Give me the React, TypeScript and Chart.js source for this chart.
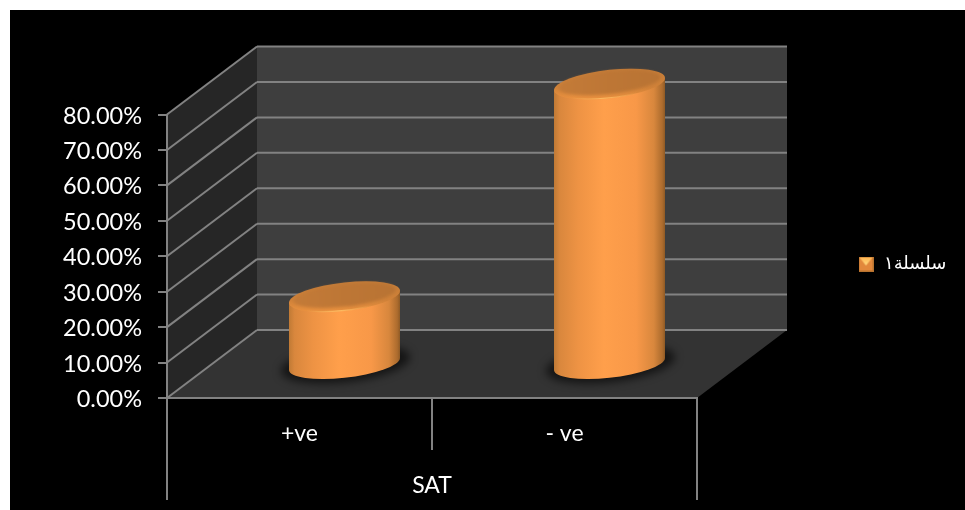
import React, { useEffect, useRef } from "react";
import { Chart, registerables } from "chart.js";

Chart.register(...registerables);

const categories = ["+ve", "- ve"];
const seriesName = "سلسلة١";
const seriesValues = [0.19, 0.79];
const groupLabel = "SAT";

const FONT = "Lato, sans-serif";
const AXIS_COLOR = "#828282";
const DEPTH_X = 90;
const DEPTH_Y = -68;

// Bevelled square used as the legend key.
function makeLegendKey(): HTMLCanvasElement {
  const c = document.createElement("canvas");
  c.width = 15;
  c.height = 15;
  const g = c.getContext("2d")!;
  g.fillStyle = "#b8732f";
  g.fillRect(0, 0, 15, 15);
  g.fillStyle = "#e2883c";
  g.fillRect(1, 1, 13, 13);
  const tri = g.createLinearGradient(0, 1, 0, 9);
  tri.addColorStop(0, "#ffb552");
  tri.addColorStop(1, "#ffdc82");
  g.fillStyle = tri;
  g.beginPath();
  g.moveTo(1, 1);
  g.lineTo(14, 1);
  g.lineTo(7.5, 9);
  g.closePath();
  g.fill();
  return c;
}

function line(ctx: CanvasRenderingContext2D, x1: number, y1: number, x2: number, y2: number) {
  ctx.beginPath();
  ctx.moveTo(x1, y1);
  ctx.lineTo(x2, y2);
  ctx.stroke();
}

// Walls, floor and the gridlines that wrap around them.
const roomPlugin = {
  id: "room",
  beforeDraw(chart: any) {
    const { ctx, chartArea: a } = chart;
    const { x: xs, y: ys } = chart.scales;
    ctx.save();
    ctx.fillStyle = "#3e3e3e";
    ctx.fillRect(a.left + DEPTH_X, a.top + DEPTH_Y, a.right - a.left, a.bottom - a.top);
    ctx.fillStyle = "#262626";
    ctx.beginPath();
    ctx.moveTo(a.left, a.top);
    ctx.lineTo(a.left + DEPTH_X, a.top + DEPTH_Y);
    ctx.lineTo(a.left + DEPTH_X, a.bottom + DEPTH_Y);
    ctx.lineTo(a.left, a.bottom);
    ctx.closePath();
    ctx.fill();
    ctx.fillStyle = "#333333";
    ctx.beginPath();
    ctx.moveTo(a.left, a.bottom);
    ctx.lineTo(a.right, a.bottom);
    ctx.lineTo(a.right + DEPTH_X, a.bottom + DEPTH_Y);
    ctx.lineTo(a.left + DEPTH_X, a.bottom + DEPTH_Y);
    ctx.closePath();
    ctx.fill();

    ctx.strokeStyle = AXIS_COLOR;
    ctx.lineWidth = 2;
    for (const t of ys.ticks) {
      const py = ys.getPixelForValue(t.value);
      line(ctx, a.left, py, a.left + DEPTH_X, py + DEPTH_Y);
      line(ctx, a.left + DEPTH_X, py + DEPTH_Y, a.right + DEPTH_X, py + DEPTH_Y);
    }

    // Two-level category dividers below the floor.
    const half = (xs.getPixelForValue(1) - xs.getPixelForValue(0)) / 2;
    const mid = xs.getPixelForValue(0) + half;
    line(ctx, a.left, a.bottom, a.left, a.bottom + 102);
    line(ctx, a.right, a.bottom, a.right, a.bottom + 102);
    line(ctx, mid, a.bottom, mid, a.bottom + 52);
    ctx.restore();
  },
};

// Rotated ellipse path for a cross-section of the cylinder.
function disc(ctx: CanvasRenderingContext2D, cx: number, cy: number, a: number, b: number, skew: number) {
  ctx.save();
  ctx.transform(1, -skew, 0, 1, cx, cy);
  ctx.beginPath();
  ctx.ellipse(0, 0, a, b, 0, 0, Math.PI * 2);
  ctx.restore();
}

// Cylinders placed at the mid depth of the room, from the bar elements' geometry.
const cylinderPlugin = {
  id: "cylinders",
  afterDatasetsDraw(chart: any) {
    const { ctx } = chart;
    const ys = chart.scales.y;
    const base0 = ys.getPixelForValue(0) + DEPTH_Y / 2;
    for (const bar of chart.getDatasetMeta(0).data) {
      const cx = bar.x + DEPTH_X / 2;
      const r = bar.width / 2;
      const topY = bar.y + DEPTH_Y / 2;
      const ry = 13.2;
      const skew = 6 / r;

      // contact shadow on the floor
      ctx.save();
      ctx.filter = "blur(4px)";
      ctx.fillStyle = "rgba(0,0,0,0.6)";
      disc(ctx, cx + 1, base0, r + 9, ry + 5, skew);
      ctx.fill();
      ctx.restore();

      // body
      const grad = ctx.createLinearGradient(cx - r, 0, cx + r, 0);
      grad.addColorStop(0, "#c07a35");
      grad.addColorStop(0.05, "#d9873d");
      grad.addColorStop(0.22, "#ee9344");
      grad.addColorStop(0.45, "#ff9f4b");
      grad.addColorStop(0.74, "#f89848");
      grad.addColorStop(0.9, "#d8873d");
      grad.addColorStop(0.975, "#ad6c2e");
      grad.addColorStop(1, "#8f5a25");
      ctx.beginPath();
      ctx.moveTo(cx - r, topY + 6);
      ctx.lineTo(cx - r, base0 + 6);
      ctx.save();
      ctx.transform(1, -skew, 0, 1, cx, base0);
      ctx.ellipse(0, 0, r, ry + 0.6, 0, Math.PI, 0, true);
      ctx.restore();
      ctx.lineTo(cx + r, topY - 6);
      ctx.closePath();
      ctx.fillStyle = grad;
      ctx.fill();

      // top face: soft bevelled rim around a darker inner disc
      const rim = ctx.createLinearGradient(0, topY - ry, 0, topY + ry + 1);
      rim.addColorStop(0, "#c47c38");
      rim.addColorStop(0.6, "#d08239");
      rim.addColorStop(1, "#e8903f");
      disc(ctx, cx, topY, r, ry + 1, skew);
      ctx.fillStyle = rim;
      ctx.fill();

      const face = ctx.createLinearGradient(cx - r, 0, cx + r, 0);
      face.addColorStop(0, "#c47b38");
      face.addColorStop(0.5, "#bd7635");
      face.addColorStop(1, "#b87333");
      ctx.save();
      ctx.filter = "blur(1.5px)";
      disc(ctx, cx, topY - 1.5, r - 4.5, ry - 2, skew);
      ctx.fillStyle = face;
      ctx.fill();
      ctx.restore();

      // thin highlight along the front of the rim
      const glow = ctx.createLinearGradient(cx - r * 0.7, 0, cx + r * 0.5, 0);
      glow.addColorStop(0, "rgba(255,190,100,0)");
      glow.addColorStop(0.5, "rgba(255,190,100,0.95)");
      glow.addColorStop(1, "rgba(255,190,100,0)");
      ctx.save();
      ctx.transform(1, -skew, 0, 1, cx, topY);
      ctx.beginPath();
      ctx.ellipse(0, 0, r - 0.5, ry + 0.5, 0, Math.PI * 0.15, Math.PI * 0.85);
      ctx.restore();
      ctx.strokeStyle = glow;
      ctx.lineWidth = 1.2;
      ctx.stroke();
    }
  },
};

// Pins the legend in the right margin and nudges the value labels onto their ticks.
const placement = {
  id: "placement",
  afterLayout(chart: any) {
    const l = chart.legend;
    const w = l.right - l.left;
    const h = l.bottom - l.top;
    l.left = 833;
    l.right = 833 + w;
    l.top = 231;
    l.bottom = 231 + h;
    for (const item of chart.scales.y.getLabelItems()) {
      item.textOffset += 1.5;
    }
  },
};

export default function App() {
  const ref = useRef<HTMLCanvasElement>(null);

  useEffect(() => {
    const key = makeLegendKey();
    const chart = new Chart(ref.current!, {
      type: "bar",
      data: {
        labels: categories,
        datasets: [
          {
            label: seriesName,
            data: seriesValues,
            backgroundColor: "transparent",
            borderWidth: 0,
            categoryPercentage: 1,
            barPercentage: 111 / 265,
          },
        ],
      },
      options: {
        animation: false,
        responsive: false,
        layout: { padding: { top: 104.5, right: 268, bottom: 0, left: 0 } },
        plugins: {
          tooltip: { enabled: false },
          legend: {
            position: "chartArea",
            align: "start",
            labels: {
              usePointStyle: true,
              color: "#ffffff",
              padding: 14,
              font: { family: "'DejaVu Sans', sans-serif", size: 18 },
              generateLabels: () => [
                { text: seriesName, pointStyle: key, fontColor: "#ffffff", lineWidth: 0, datasetIndex: 0 },
              ],
            },
          },
        },
        scales: {
          x: {
            type: "category",
            afterFit: (s: any) => {
              s.height = 112;
            },
            grid: { display: true, drawOnChartArea: false, drawTicks: false, color: "transparent" },
            border: { color: AXIS_COLOR, width: 2 },
            ticks: { color: "#ffffff", padding: 22, maxRotation: 0, font: { family: FONT, size: 23 } },
            title: {
              display: true,
              text: groupLabel,
              color: "#ffffff",
              padding: { top: 0, bottom: 11 },
              font: { family: FONT, size: 23 },
            },
          },
          y: {
            min: 0,
            max: 0.8,
            afterFit: (s: any) => {
              s.width = 157;
            },
            grid: { drawOnChartArea: false, color: AXIS_COLOR, lineWidth: 2, tickLength: 9 },
            border: { color: AXIS_COLOR, width: 2 },
            ticks: {
              stepSize: 0.1,
              color: "#ffffff",
              padding: 16,
              font: { family: FONT, size: 23.5 },
              callback: (v: any) => (Number(v) * 100).toFixed(2) + "%",
            },
          },
        },
      },
      plugins: [roomPlugin, cylinderPlugin, placement],
    } as any);
    return () => chart.destroy();
  }, []);

  return (
    <div style={{ position: "fixed", left: 10, top: 10, width: 955, height: 500, background: "#000", overflow: "hidden" }}>
      <canvas ref={ref} width={955} height={500} style={{ display: "block" }} />
    </div>
  );
}
